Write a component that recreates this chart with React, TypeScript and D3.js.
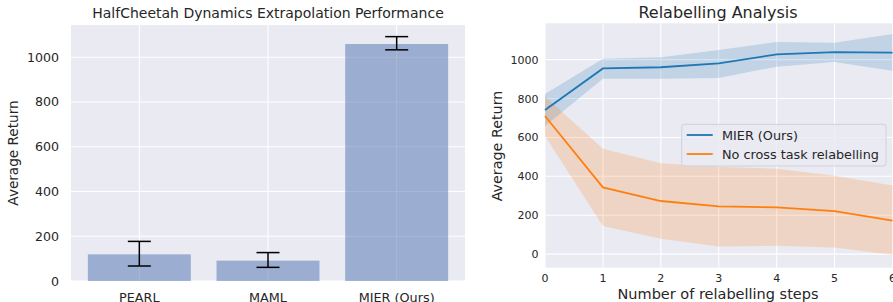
import React from "react";
import * as d3 from "d3";

// left panel: bar chart
const methods = ["PEARL", "MAML", "MIER (Ours)"];
const barMeans = [119, 91, 1059];
const barLow = [67, 61, 1033];
const barHigh = [177, 127, 1092];
const barTicks = [0, 200, 400, 600, 800, 1000];

// right panel: relabelling
const steps = [0, 1, 2, 3, 4, 5, 6];
const mierMean = [741, 955, 961, 981, 1027, 1039, 1036];
const mierUpper = [823, 1005, 1012, 1050, 1091, 1087, 1132];
const mierLower = [659, 902, 902, 906, 964, 988, 943];
const noRelMean = [710, 343, 273, 245, 240, 221, 172];
const noRelUpper = [810, 542, 467, 449, 439, 403, 353];
const noRelLower = [607, 144, 79, 39, 43, 34, -3];
const lineTicks = [0, 200, 400, 600, 800, 1000];

const BG = "#eaeaf2";
const TXT = "#262626";
const FONT = "DejaVu Sans, sans-serif";

const App = () => {
  // --- left
  const xL = d3.scaleLinear().domain([-0.531, 2.531]).range([71, 465]);
  const yL = d3.scaleLinear().domain([0, 1144]).range([281, 25]);
  const bw = xL(0.4) - xL(0);
  const capW = 11.5;

  // --- right
  const xR = d3.scaleLinear().domain([0, 6]).range([545, 892.5]);
  const yR = d3.scaleLinear().domain([-70, 1187]).range([267.7, 23.3]);
  const line = d3.line<number>().x((_, i) => xR(steps[i])).y(d => yR(d));
  const band = (lo: number[], hi: number[]) =>
    d3.area<number>()
      .x((_, i) => xR(steps[i]))
      .y0((_, i) => yR(lo[i]))
      .y1(d => yR(d))(hi) || "";

  return (
    <svg width={893} height={302} style={{ position: "absolute", left: 0, top: 0 }} fontFamily={FONT}>
      <rect width={893} height={302} fill="white" />

      {/* LEFT */}
      <rect x={71} y={25} width={394} height={256} fill={BG} />
      {barTicks.map(t => (
        <line key={t} x1={71} x2={465} y1={yL(t)} y2={yL(t)} stroke="white" strokeWidth={1.1} />
      ))}
      {methods.map((m, i) => (
        <line key={m} x1={xL(i)} x2={xL(i)} y1={25} y2={281} stroke="white" strokeWidth={1.1} />
      ))}
      {methods.map((m, i) => (
        <rect key={m} x={xL(i) - bw} y={yL(barMeans[i])} width={bw * 2} height={yL(0) - yL(barMeans[i])}
          fill="#4c72b0" opacity={0.5} />
      ))}
      {methods.map((m, i) => (
        <g key={m} stroke="black" strokeWidth={1.5}>
          <line x1={xL(i)} x2={xL(i)} y1={yL(barLow[i])} y2={yL(barHigh[i])} />
          <line x1={xL(i) - capW} x2={xL(i) + capW} y1={yL(barLow[i])} y2={yL(barLow[i])} />
          <line x1={xL(i) - capW} x2={xL(i) + capW} y1={yL(barHigh[i])} y2={yL(barHigh[i])} />
        </g>
      ))}
      {barTicks.map(t => (
        <text key={t} x={59} y={yL(t) + 4.5} textAnchor="end" fontSize={12.6} fill={TXT}>{t}</text>
      ))}
      {methods.map((m, i) => (
        <text key={m} x={xL(i)} y={302} textAnchor="middle" fontSize={12.8} fill={TXT}>{m}</text>
      ))}
      <text x={268} y={18} textAnchor="middle" fontSize={14} fill={TXT}>
        HalfCheetah Dynamics Extrapolation Performance
      </text>
      <text transform={`translate(18,153) rotate(-90)`} textAnchor="middle" fontSize={13.6} fill={TXT}>
        Average Return
      </text>

      {/* RIGHT */}
      <rect x={545} y={23.3} width={348} height={244.4} fill={BG} />
      {lineTicks.map(t => (
        <line key={t} x1={545} x2={893} y1={yR(t)} y2={yR(t)} stroke="white" strokeWidth={1.1} />
      ))}
      {steps.map(s => (
        <line key={s} x1={xR(s)} x2={xR(s)} y1={23.3} y2={267.7} stroke="white" strokeWidth={1.1} />
      ))}
      <path d={band(mierLower, mierUpper)} fill="#1f77b4" opacity={0.2} />
      <path d={band(noRelLower, noRelUpper)} fill="#ff7f0e" opacity={0.2} />
      <path d={line(mierMean) || ""} fill="none" stroke="#1f77b4" strokeWidth={1.8} />
      <path d={line(noRelMean) || ""} fill="none" stroke="#ff7f0e" strokeWidth={1.8} />
      {lineTicks.map(t => (
        <text key={t} x={538.5} y={yR(t) + 4} textAnchor="end" fontSize={11} fill={TXT}>{t}</text>
      ))}
      {steps.map(s => (
        <text key={s} x={xR(s)} y={282} textAnchor="middle" fontSize={11} fill={TXT}>{s}</text>
      ))}
      <text x={718} y={18} textAnchor="middle" fontSize={16} fill={TXT}>Relabelling Analysis</text>
      <text x={718} y={298.5} textAnchor="middle" fontSize={14.5} fill={TXT}>Number of relabelling steps</text>
      <text transform={`translate(502,146) rotate(-90)`} textAnchor="middle" fontSize={14.3} fill={TXT}>
        Average Return
      </text>

      {/* legend */}
      <g>
        <rect x={681.7} y={124.3} width={204.3} height={41.7} rx={2.5} fill={BG} fillOpacity={0.8} stroke="#d0d0d8" strokeWidth={1} />
        <line x1={686.7} x2={712.7} y1={135} y2={135} stroke="#1f77b4" strokeWidth={1.8} />
        <line x1={686.7} x2={712.7} y1={154} y2={154} stroke="#ff7f0e" strokeWidth={1.8} />
        <text x={722} y={139.6} fontSize={12.8} fill={TXT}>MIER (Ours)</text>
        <text x={722} y={158.6} fontSize={12.8} fill={TXT}>No cross task relabelling</text>
      </g>
    </svg>
  );
};

export default App;
